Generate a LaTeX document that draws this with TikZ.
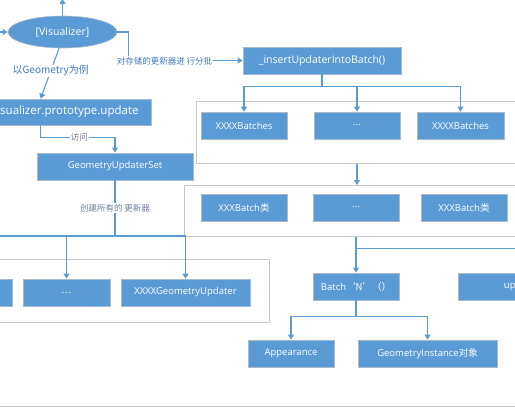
\documentclass[tikz,border=0pt]{standalone}
\usepackage{fontspec}
\setmainfont{Open Sans}
\newfontfamily\cjk{Noto Sans CJK SC}
\usetikzlibrary{arrows.meta,shapes.geometric,shadows,calc}
\definecolor{boxblue}{HTML}{5B9BD5}
\definecolor{boxedge}{HTML}{A9B9CC}
\definecolor{lineblue}{HTML}{5B9BD5}
\definecolor{contgray}{HTML}{C8C8C8}
\definecolor{lblblue}{HTML}{3F7CC0}
\definecolor{lblgray}{HTML}{7080A0}
\begin{document}
\begin{tikzpicture}[x=1pt,y=-1pt,
  box/.style={rectangle, fill=boxblue, draw=boxedge, line width=0.8pt, text=white,
    font=\fontsize{9.5}{11}\selectfont, minimum height=27pt, inner sep=0pt,
    drop shadow={shadow xshift=1pt, shadow yshift=-1pt, opacity=0.12}},
  cont/.style={rectangle, draw=contgray, line width=0.9pt, fill=white, inner sep=0pt},
  arr/.style={draw=lineblue, line width=1.1pt, -{Triangle[length=5pt,width=6pt]}},
  ln/.style={draw=lineblue, line width=1.1pt},
  lbl/.style={fill=white, inner sep=1pt, font=\cjk\fontsize{8.5}{10}\selectfont},
]
\useasboundingbox (0,0) rectangle (515,407);
\fill[white] (0,0) rectangle (515,407);

% containers
\node[cont, anchor=north west, minimum width=344pt, minimum height=62pt] (c1) at (196,101) {};
\node[cont, anchor=north west, minimum width=356pt, minimum height=51pt] (c2) at (184,185) {};
\node[cont, anchor=north west, minimum width=289pt, minimum height=63pt] (c3) at (-20,259) {};

% ellipse
\node[ellipse, fill=boxblue, draw=boxedge, line width=0.6pt, minimum width=109pt, minimum height=32pt, inner sep=0pt, text=white, font=\fontsize{10.5}{12}\selectfont] (viz) at (62.5,32) {[Visualizer]};
\coordinate (vtop) at (62.5,-1);
\coordinate (vleft) at (-20,32);

% boxes
\node[box, minimum width=158pt, font=\fontsize{10.5}{12}\selectfont] (ins) at (322,60.5) {\_insertUpdaterIntoBatch()};
\node[box, minimum width=86pt] (b1) at (244,125.5) {XXXXBatches};
\node[box, minimum width=86pt] (b2) at (357,125.5) {...};
\node[box, minimum width=87pt] (b3) at (460.5,125.5) {XXXXBatches};
\node[box, minimum width=86pt] (k1) at (244,207.5) {XXXBatch\cjk{类}};
\node[box, minimum width=86pt] (k2) at (356,207.5) {...};
\node[box, minimum width=86pt] (k3) at (464,207.5) {XXXBatch\cjk{类}};
\node[box, minimum width=86pt] (bn) at (356,286.5) {Batch\cjk{‘}N\cjk{’}\cjk{（）}};
\node[box, minimum width=129pt] (ub) at (522.5,286.5) {update()};
\node[box, minimum width=86pt] (ap) at (291,353.5) {Appearance};
\node[box, minimum width=139pt] (gi) at (427.5,353.5) {GeometryInstance\cjk{对象}};
\node[box, minimum width=173pt, minimum height=26pt, font=\fontsize{11.5}{13}\selectfont] (upd) at (64.5,112) {Visualizer.prototype.update};
\node[box, minimum width=156pt] (gus) at (115,166.5) {GeometryUpdaterSet};
\node[box, minimum width=129pt] (g0) at (-52.5,292.5) {XXXXGeometryUpdater};
\node[box, minimum width=87pt] (g1) at (66.5,292.5) {\cjk{…}};
\node[box, minimum width=129pt] (g2) at (185.5,292.5) {XXXXGeometryUpdater};

% connectors around ellipse
\draw[arr] (viz.north) -- (vtop);
\draw[arr] (vleft) -- (viz.west);
\draw[arr] (viz.east) -- ++(11,0) |- (ins.west);
\node[lbl, text=lblblue] (l1) at (164.5,61) {对存储的更新器进 行分批};
\draw[arr] (viz.258) -- ([xshift=63pt]upd.north west)
  node[pos=0.45, fill=white, inner sep=1pt, text=lblblue, font=\fontsize{10}{12}\selectfont] (l2) {\cjk{以}Geometry\cjk{为例}};

% update -> set
\draw[arr] ([xshift=63pt]upd.south west) -- ++(0,12) -| (gus.north)
  node[lbl, text=lblgray, pos=0.26] (l3) {访问};

% set -> updaters
\coordinate (j1) at (gus.south |- 0,236);
\draw[ln] (gus.south) -- (j1) node[lbl, text=lblgray, midway] (l4) {创建所有的 更新器};
\draw[arr] (j1) -| (g0.north);
\draw[arr] (j1) -| (g1.north);
\draw[arr] (j1) -| (g2.north);

% insert -> batches
\draw[arr] (ins.south) -- ++(0,12) -| (b1.north);
\draw[arr] (ins.south) -- ++(0,12) -| (b2.north);
\draw[arr] (ins.south) -- ++(0,12) -| (b3.north);

% containers chain
\draw[arr] (b2.south |- c1.south) -- (b2.south |- c2.north);
\draw[arr] (bn.north |- c2.south) -- (bn.north);
\draw[arr] (bn.north |- c2.south) -- ++(0,12) -| (ub.north);

% batch -> parts
\draw[arr] (bn.south) -- ++(0,16) -| (ap.north);
\draw[arr] (bn.south) -- ++(0,16) -| (gi.north);

% bottom rule
\draw[draw=contgray, line width=1pt] (0,406) -- (515,406);
\end{tikzpicture}
\end{document}
